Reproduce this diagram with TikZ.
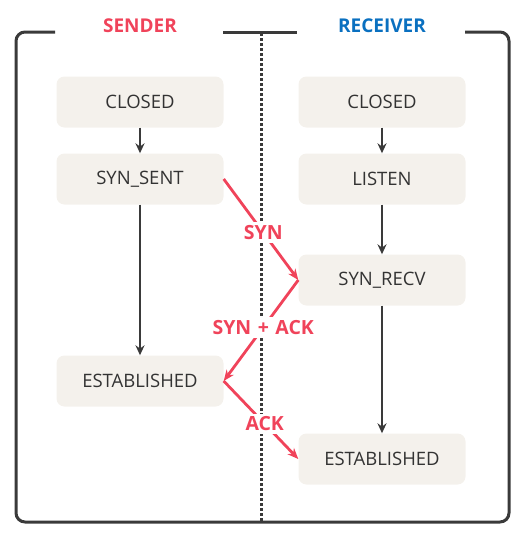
\documentclass[tikz,border=0pt]{standalone}
\usepackage{fontspec}
\setmainfont{Open Sans}
\usetikzlibrary{arrows.meta}
\definecolor{redc}{HTML}{F0435A}
\definecolor{bluec}{HTML}{0A70C0}
\definecolor{boxc}{HTML}{F4F1EC}
\definecolor{linec}{HTML}{3A3A3A}
\definecolor{textc}{HTML}{333333}
\begin{document}
\begin{tikzpicture}[x=1pt,y=-1pt,
  state/.style={fill=boxc,rounded corners=8pt,minimum width=167pt,minimum height=51pt,
     text=textc,font=\fontsize{18.5}{20}\selectfont,inner sep=0pt},
  flow/.style={draw=linec,line width=2.5pt,-{Stealth[length=10pt,width=9pt]}},
  msg/.style={draw=redc,line width=2.8pt,-{Stealth[length=11pt,width=9pt]}},
  msglab/.style={fill=white,text=redc,font=\bfseries\fontsize{19.5}{20}\selectfont,inner sep=3pt},
  head/.style={font=\bfseries\fontsize{19}{20}\selectfont}]
\useasboundingbox (0,0) rectangle (525,536);
% frame
\draw[linec,line width=3pt,rounded corners=9pt] (55,32) -- (16,32) -- (16,522) -- (509,522) -- (509,32) -- (465,32);
\draw[linec,line width=3pt] (223,32) -- (297,32);
\draw[linec,line width=3pt,dash pattern=on 3pt off 2pt] (261,33) -- (261,521);
\node[head,text=redc] (sender) at (140,26) {SENDER};
\node[head,text=bluec] (receiver) at (382,26) {RECEIVER};
% states
\node[state] (sc) at (140,102) {CLOSED};
\node[state] (ss) at (140,179) {SYN\_SENT};
\node[state] (se) at (140,381) {ESTABLISHED};
\node[state] (rc) at (382,102) {CLOSED};
\node[state] (rl) at (382,179) {LISTEN};
\node[state] (rs) at (382,280) {SYN\_RECV};
\node[state] (re) at (382,459) {ESTABLISHED};
% flows
\draw[flow] (sc) -- (ss);
\draw[flow] (ss) -- (se);
\draw[flow] (rc) -- (rl);
\draw[flow] (rl) -- (rs);
\draw[flow] (rs) -- (re);
% messages
\draw[msg] (ss.east) -- node[msglab,pos=0.53] (l1) {SYN} (rs.west);
\draw[msg] (rs.west) -- node[msglab,pos=0.47] (l2) {SYN\,\,+\,\,ACK} (se.east);
\draw[msg] (se.east) -- node[msglab,pos=0.55] (l3) {ACK} (re.west);
\end{tikzpicture}
\end{document}
